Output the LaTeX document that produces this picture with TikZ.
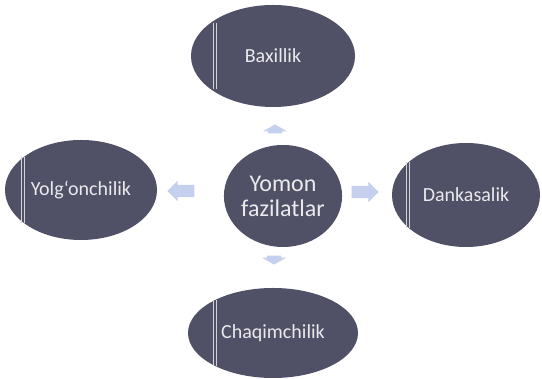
\documentclass[tikz,border=0pt]{standalone}
\usepackage{fontspec}
\setmainfont{Carlito}
\usepackage{tikz}
\usetikzlibrary{shapes.geometric, shapes.arrows}
\definecolor{slate}{RGB}{80,81,102}
\definecolor{pale}{RGB}{196,208,238}
\tikzset{every picture/.style={x=1pt,y=1pt}}
\tikzset{
    vice/.style={ellipse, fill=slate, text=white!88!slate, inner sep=0pt,
        font=\fontsize{20}{22}\selectfont},
    gloss/.style={white!75!slate, line width=0.8pt},
    pointer/.style={single arrow, fill=pale, inner xsep=0pt}
}

\begin{document}
\begin{tikzpicture}
        \useasboundingbox (0,0) rectangle (542,379);

        % Draw the central ellipse
        \node[vice, minimum width=114, minimum height=102, align=center,
            font=\fontsize{24}{25}\selectfont] (core) at (283,183) {Yomon\\fazilatlar};

        % Draw the four vices
        \node[vice, minimum width=164, minimum height=102] (top) at (273,323) {Baxillik};
        \node[vice, minimum width=152, minimum height=100] (left) at (81,189) {Yolg\symbol{96}onchilik};
        \node[vice, minimum width=148, minimum height=104] (right) at (466,184) {Dankasalik};
        \node[vice, minimum width=170, minimum height=90] (bottom) at (273,46) {Chaqimchilik};

        % Light stripes
        \foreach \n in {top,left,right,bottom} {
            \draw[gloss] ([xshift=-60,yshift=-33]\n.center) -- ++(0,66);
            \draw[gloss] ([xshift=-57,yshift=-33]\n.center) -- ++(0,66);
        }

        % Arrows
        \node[pointer, inner xsep=7, inner ysep=0, single arrow head extend=5, single arrow tip angle=120,
            minimum width=24, minimum height=9, shape border rotate=90] (up) at (275,248) {};
        \node[pointer, inner ysep=6, single arrow head extend=4,
            minimum height=27, shape border rotate=180] (west) at (184,188) {};
        \node[pointer, inner ysep=6, single arrow head extend=4,
            minimum height=27] (east) at (362,187) {};
        \node[pointer, inner xsep=7, inner ysep=0, single arrow head extend=5, single arrow tip angle=120,
            minimum width=24, minimum height=9, shape border rotate=270] (down) at (274,121) {};
    \end{tikzpicture}
\end{document}
